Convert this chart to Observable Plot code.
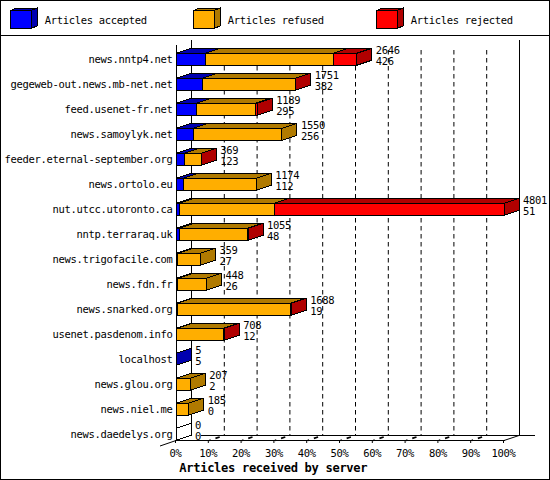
<!DOCTYPE html>
<html><head><meta charset="utf-8">
<script src="https://cdn.jsdelivr.net/npm/d3@7"></script>
<script src="https://cdn.jsdelivr.net/npm/@observablehq/plot@0.6"></script>
<style>
html,body{margin:0;padding:0;background:#fff}
#page{position:relative;width:550px;height:480px;overflow:hidden;outline:1px solid #000;outline-offset:-1px;font-family:"DejaVu Sans Mono",monospace;font-size:10.5px;letter-spacing:-.32px;color:#000}
#legend{position:relative;height:35px;border-bottom:1px solid #000}
#legend div{position:absolute;top:14px;line-height:12px;white-space:pre}
#legend svg{position:absolute;top:0;left:0}
#chart svg{display:block}
</style></head><body>
<div id="page"><div id="legend"></div><div id="chart"></div></div>
<script>
const hosts=["news.nntp4.net","gegeweb-out.news.mb-net.net","feed.usenet-fr.net","news.samoylyk.net","feeder.eternal-september.org","news.ortolo.eu","nut.utcc.utoronto.ca","nntp.terraraq.uk","news.trigofacile.com","news.fdn.fr","news.snarked.org","usenet.pasdenom.info","localhost","news.glou.org","news.niel.me","news.daedelys.org"];
const totals=[2646,1751,1189,1550,369,1174,4801,1055,359,448,1688,708,5,207,185,0];
const accepted=[426,382,295,256,123,112,51,48,27,26,19,12,5,2,0,0];
const rejected=[344,5,30,0,3,0,3362,8,0,0,15,10,0,0,0,0];
const refused=[1876,1364,864,1294,243,1062,1388,999,332,422,1654,686,0,205,185,0];
const seriesNames=["Articles accepted","Articles refused","Articles rejected"];
const frontColors=["#0000ff","#ffae00","#ff0000"];
const darkColors=["#0000b0","#b07a00","#b00000"];
const percentTicks=[0,10,20,30,40,50,60,70,80,90,100];
const gridTicks=[10,20,30,40,50,60,70,80,90];
const xTitle="Articles received by server";
const depthX=15, depthY=5;
const maxTotal=d3.max(totals);
const pct=v=>v/maxTotal*100;

const segments=[];
hosts.forEach((host,i)=>{
  const vals=[accepted[i],refused[i],rejected[i]];
  let run=0,lastIdx=-1;
  vals.forEach((v,k)=>{if(v>0)lastIdx=k;});
  if(lastIdx<0){segments.push({host,x1:0,x2:0,k:0,last:true,empty:true,series:seriesNames[0]});return;}
  vals.forEach((v,k)=>{
    if(v>0){segments.push({host,x1:pct(run),x2:pct(run+v),k,last:k===lastIdx,series:seriesNames[k]});run+=v;}
  });
});
const labels=hosts.map((host,i)=>({host,total:totals[i],acc:accepted[i]}));

function faces(index,scales,values,dims,ctx,next){
  const g=next(index,scales,values,dims,ctx);
  const step=scales.y(hosts[1])-scales.y(hosts[0]);
  const bw=step*(1-.52);
  const layer=d3.create("svg:g").attr("shape-rendering","crispEdges").attr("stroke","#000");
  for(const i of index){
    const s=segments[i];
    const x1=values.x1[i],x2=values.x2[i],y=values.y[i];
    layer.append("polygon")
      .attr("points",[[x1,y],[x1+depthX,y-depthY],[x2+depthX,y-depthY],[x2,y]].join(" "))
      .attr("fill",s.empty?"none":darkColors[s.k]);
    if(s.last) layer.append("polygon")
      .attr("points",[[x2,y],[x2+depthX,y-depthY],[x2+depthX,y+bw-depthY],[x2,y+bw]].join(" "))
      .attr("fill",s.empty?"none":darkColors[s.k]);
  }
  g.insertBefore(layer.node(),g.firstChild);
  return g;
}

function floorTicks(index,{x},channels,{height,marginBottom}){
  const y0=height-marginBottom+.5;
  const g=d3.create("svg:g").attr("fill","none").attr("stroke","#000");
  g.append("line").attr("x1",x(0)-16).attr("y1",y0+5.5).attr("x2",x(0)).attr("y2",y0);
  g.append("line").attr("x1",x(100)).attr("y1",y0).attr("x2",x(100)+depthX).attr("y2",y0-depthY);
  for(const t of gridTicks){
    g.append("line").attr("x1",x(t)+.5).attr("y1",y0).attr("x2",x(t)+depthX).attr("y2",y0-depthY)
      .attr("stroke-width",1.6).attr("stroke-dasharray","1.5,5,4.5,9");
  }
  return g.node();
}

const chart=Plot.plot({
  width:550,height:443,
  marginTop:4,marginBottom:39,marginLeft:176,marginRight:46,
  style:{fontFamily:'"DejaVu Sans Mono",monospace',fontSize:"10.5px",background:"transparent",color:"#000",overflow:"visible"},
  x:{domain:[0,100]},
  y:{domain:hosts,range:[10.75,410.75],paddingInner:.52,paddingOuter:.26,align:.5,round:false},
  color:{domain:seriesNames,range:frontColors},
  marks:[
    Plot.frame({anchor:"bottom",dx:depthX,dy:-depthY,insetLeft:10,insetRight:-depthX,stroke:"#000"}),
    Plot.ruleX(gridTicks,{x:d=>d,dx:depthX,dy:-depthY,insetTop:15,stroke:"#000",strokeDasharray:"4.5,3.5"}),
    Plot.ruleX([0,100],{x:d=>d,dx:depthX,dy:-depthY,insetTop:5,stroke:"#000"}),
    Plot.ruleX([0],{x:d=>d,insetTop:5,stroke:"#000"}),
    Plot.frame({anchor:"bottom",stroke:"#000"}),
    floorTicks,
    Plot.barX(segments,{x1:"x1",x2:"x2",y:"host",fill:"series",stroke:"#000",shapeRendering:"crispEdges",render:faces}),
    Plot.text(labels,{x:d=>pct(d.total),y:"host",text:d=>String(d.total),dx:18.5,dy:-9,textAnchor:"start",fill:"#000",fontSize:10.5}),
    Plot.text(labels,{x:d=>pct(d.total),y:"host",text:d=>String(d.acc),dx:18.5,dy:2,textAnchor:"start",fill:"#000",fontSize:10.5}),
    Plot.axisY({anchor:"left",tickSize:0,tickPadding:4,label:null,fontSize:10.5}),
    Plot.axisX(percentTicks,{anchor:"bottom",tickSize:3,tickPadding:6,label:null,tickFormat:d=>d+"%",fontSize:10.5,dx:-1}),
    Plot.text([xTitle],{x:()=>29.5,frameAnchor:"bottom",dy:31,fontSize:12.1,fontWeight:"bold",fill:"#000"})
  ]
});
document.getElementById("chart").appendChild(chart);

const legend=d3.select("#legend");
[10.5,193.5,376.5].forEach((lx,k)=>{
  const svg=legend.append("svg").attr("width",35).attr("height",35).style("left",(lx-1)+"px")
    .attr("shape-rendering","crispEdges").attr("stroke","#000");
  const x=.5,y=10.5,w=20.5,h=18,dx=6,dy=2.5;
  svg.append("polygon").attr("points",[[x,y],[x+dx,y-dy],[x+w+dx,y-dy],[x+w,y]].join(" ")).attr("fill",darkColors[k]);
  svg.append("polygon").attr("points",[[x+w,y],[x+w+dx,y-dy],[x+w+dx,y+h-dy],[x+w,y+h]].join(" ")).attr("fill",darkColors[k]);
  svg.append("rect").attr("x",x).attr("y",y).attr("width",w).attr("height",h).attr("fill",frontColors[k]);
  legend.append("div").style("left",(lx+34.2)+"px").text(seriesNames[k]);
});
</script></body></html>
